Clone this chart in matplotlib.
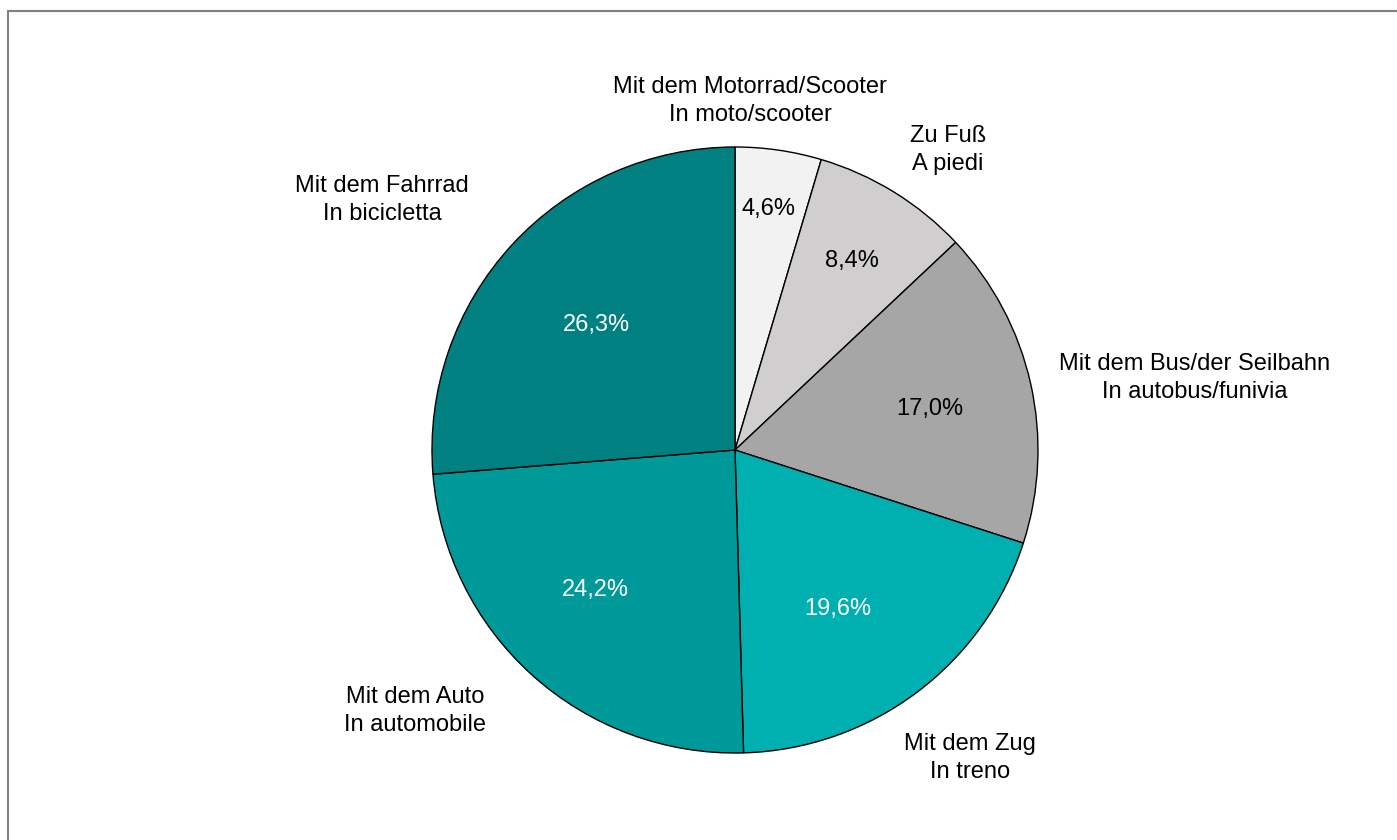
import matplotlib.pyplot as plt
from matplotlib.patches import Rectangle

plt.rcParams['font.family'] = ['Liberation Sans', 'DejaVu Sans']

labels = ["Mit dem Motorrad/Scooter\nIn moto/scooter",
          "Zu Fuß\nA piedi",
          "Mit dem Bus/der Seilbahn\nIn autobus/funivia",
          "Mit dem Zug\nIn treno",
          "Mit dem Auto\nIn automobile",
          "Mit dem Fahrrad\nIn bicicletta"]
values = [4.6, 8.4, 17.0, 19.6, 24.2, 26.3]
pct_text = ["4,6%", "8,4%", "17,0%", "19,6%", "24,2%", "26,3%"]
colors = ["#f2f2f2", "#d0cece", "#a6a6a6", "#00b0b0", "#009999", "#008080"]
pct_colors = ["black", "black", "black", "white", "white", "white"]

fig = plt.figure(figsize=(13.97, 8.4), dpi=100)
fig.patches.append(Rectangle((8 / 1397, -0.1), 1.2, 1.1 - 11 / 840,
                             transform=fig.transFigure, fill=False,
                             edgecolor="#808080", linewidth=1.5))

R = 303  # pie radius in px
ax = fig.add_axes([432 / 1397, 87 / 840, 606 / 1397, 606 / 840])
wedges, _ = ax.pie(values, colors=colors, startangle=90, counterclock=False,
                   wedgeprops=dict(edgecolor="black", linewidth=1))
ax.set_xlim(-1, 1)
ax.set_ylim(-1, 1)
ax.set_aspect("equal")
ax.axis("off")

# percentage labels inside slices (offsets from centre, px)
pct_pos = [(33, 241), (117, 189), (195, 41), (103, -159), (-140, -140), (-139, 125)]
for t, c, (dx, dy) in zip(pct_text, pct_colors, pct_pos):
    ax.text(dx / R, dy / R, t, ha="center", va="center", fontsize=17, color=c)

# category labels outside
label_pos = [(15, 349), (213, 300), (460, 72), (235, -308), (-320, -261), (-353, 250)]
for lab, (dx, dy) in zip(labels, label_pos):
    ax.text(dx / R, dy / R, lab, ha="center", va="center", fontsize=17,
            color="black", clip_on=False, linespacing=1.3)

fig.savefig("out.png", dpi=100)
